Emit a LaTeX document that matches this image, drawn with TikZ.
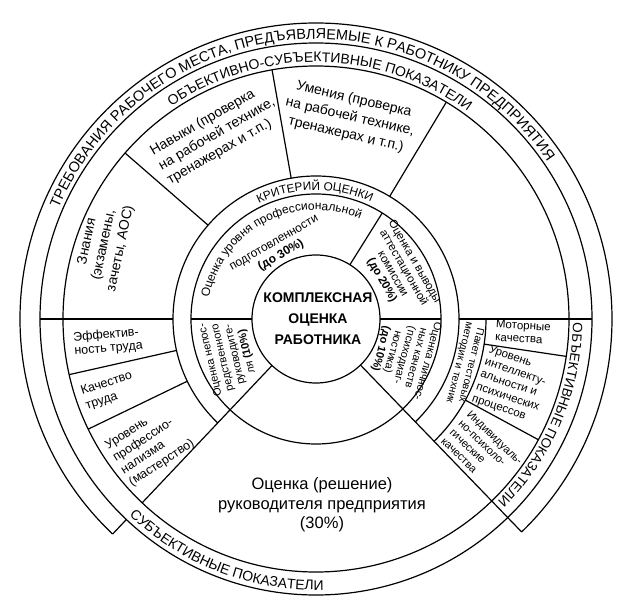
\documentclass[tikz,border=0pt]{standalone}
\usepackage{fontspec}
\setmainfont{Liberation Sans}
\usetikzlibrary{decorations.text}
\newcommand{\fsz}[2]{\fontsize{#1}{#2}\selectfont}
\begin{document}
\begin{tikzpicture}[x=1pt,y=1pt,
  ln/.style={line width=1.2pt},
  txt/.style={inner sep=0pt, align=center}]
\useasboundingbox (-316,-284) rectangle (326,319);
\def\Ra{296}\def\Rb{276}\def\Rc{253}\def\Rd{143}\def\Re{125}\def\Rf{64}\def\Rp{170}
% full circles
\draw[ln] (0,0) circle[radius=\Rf];
\draw[ln] (0,0) circle[radius=\Re];
\draw[ln] (0,0) circle[radius=\Rc];
\draw[ln] (0,0) circle[radius=\Rb];
% partial arcs
\draw[ln] (-46:\Ra) arc[start angle=-46,end angle=226.6,radius=\Ra];
\draw[ln] (-46:\Rd) arc[start angle=-46,end angle=226.6,radius=\Rd];
\draw[ln] (-46:\Rp) arc[start angle=-46,end angle=0,radius=\Rp];
% radial lines
\draw[ln] (-46:\Rf) -- (-46:\Ra);
\draw[ln] (226.6:\Rf) -- (226.6:\Rc);
\draw[ln] (226.6:\Rb) -- (226.6:\Ra);
\draw[ln] (0:\Rf) -- (0:\Re);
\draw[ln] (0:\Rd) -- (0:\Rb);
\draw[ln] (180:\Rf) -- (180:\Re);
\draw[ln] (180:\Rd) -- (180:\Rb);
\draw[ln] (58:\Rf) -- (58:\Re);
\draw[ln] (59:\Rd) -- (59:\Rc);
\draw[ln] (100:\Rd) -- (100:\Rc);
\draw[ln] (139:\Rd) -- (139:\Rc);
\draw[ln] (192.7:\Rd) -- (192.7:\Rc);
\draw[ln] (205.8:\Rd) -- (205.8:\Rc);
\draw[ln] (-8.5:\Rp) -- (-8.5:\Rc);
\draw[ln] (-28.5:\Rp) -- (-28.5:\Rc);
% curved band texts (centred on long arcs)
\path[decorate, decoration={text along path, text align=center,
  text={|\fsz{14.5}{16}|ТРЕБОВАНИЯ РАБОЧЕГО МЕСТА, ПРЕДЪЯВЛЯЕМЫЕ К РАБОТНИКУ ПРЕДПРИЯТИЯ}}]
  (175:280) arc[start angle=175, end angle=16, radius=280];
\path[decorate, decoration={text along path, text align=center,
  text={|\fsz{14}{16}|ОБЪЕКТИВНО-СУБЪЕКТИВНЫЕ ПОКАЗАТЕЛИ}}]
  (139:257) arc[start angle=139, end angle=39, radius=257];
\path[decorate, decoration={text along path, text align=center,
  text={|\fsz{14}{16}|СУБЪЕКТИВНЫЕ ПОКАЗАТЕЛИ}}]
  (214:271) arc[start angle=214, end angle=284, radius=271];
\path[decorate, decoration={text along path, text align=center,
  text={|\fsz{13.5}{16}|ОБЪЕКТИВНЫЕ ПОКАЗАТЕЛИ}}]
  (12:257) arc[start angle=12, end angle=-58, radius=257];
\path[decorate, decoration={text along path, text align=center,
  text={|\fsz{11.8}{14}|КРИТЕРИЙ ОЦЕНКИ}}]
  (130:129) arc[start angle=130, end angle=51, radius=129];
\path[decorate, decoration={text along path, text align=center,
  text={|\fsz{12}{14}|Оценка уровня профессиональной}}]
  (185:109) arc[start angle=185, end angle=50, radius=109];
% sector texts
\node[txt, font=\bfseries\fsz{14}{21}] (core) at (2,0) {КОМПЛЕКСНАЯ\\ОЦЕНКА\\РАБОТНИКА};
\node[txt, font=\fsz{16.5}{19.5}] (boss) at (6,-186) {Оценка (решение)\\руководителя предприятия\\(30\%)};
\node[txt, align=left, rotate=30, font=\fsz{14}{17}] (skills) at (-99,185) {Навыки (проверка\\на рабочей технике,\\тренажерах и т.п.)};
\node[txt, rotate=-13, font=\fsz{14}{18}] (abil) at (34,202) {Умения (проверка\\на рабочей технике,\\тренажерах и т.п.)};
\node[txt, rotate=78, font=\fsz{14}{17}] (know) at (-212,74) {Знания\\(экзамены,\\зачеты, АОС)};
\node[txt, align=left, rotate=5, font=\fsz{12.5}{13.5}] (eff) at (-208,-23) {Эффектив-\\ность труда};
\node[txt, align=left, rotate=18, font=\fsz{12.5}{15}] (qual) at (-207,-72) {Качество\\труда};
\node[txt, align=left, rotate=33, font=\fsz{12.5}{14.5}] (prof) at (-166,-126) {Уровень\\профессио-\\нализма\\(мастерство)};
\node[txt, align=left, rotate=-3, font=\fsz{11.5}{13}] (motor) at (207,-13) {Моторные\\качества};
\node[txt, align=left, rotate=-19, font=\fsz{11.5}{13}] (intel) at (196,-66) {Уровень\\интеллекту-\\альности и\\психических\\процессов};
\node[txt, align=left, rotate=-44, font=\fsz{11}{12.5}] (indiv) at (166,-132) {Индивидуаль-\\но-психоло-\\гические\\качества};
\node[txt, rotate=-104, font=\fsz{10.5}{12}] (tests) at (149,-45) {Пакет тестовых\\методик и техник};
\node[txt, rotate=-105, font=\fsz{11}{12}] (pers) at (88,-36) {Оценка личнос-\\ных качеств\\(психодиаг-\\ностика)\\\textbf{(до 10\%)}};
\node[txt, rotate=103, font=\fsz{11}{12.5}] (direct) at (-87,-37) {Оценка непос-\\редственного\\руководите-\\ля \textbf{(10\%)}};
\node[txt, rotate=-60, font=\fsz{11.5}{12.5}] (comm) at (82,48) {Оценка и выводы\\аттестационной\\комиссии\\\textbf{(до 20\%)}};
\node[txt, rotate=30, font=\fsz{12}{14}] (prep) at (-38,69) {подготовленности\\\textbf{(до 30\%)}};
\end{tikzpicture}
\end{document}
